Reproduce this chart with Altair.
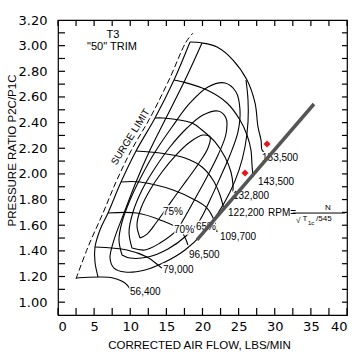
import altair as alt
import pandas as pd

# ---------------- axes ----------------
X_DOMAIN = [0, 40]
Y_DOMAIN = [0.9, 3.2]
x_tick_values = [0, 2.5, 5, 7.5, 10, 12.5, 15, 17.5, 20, 22.5, 25, 27.5, 30, 32.5, 35, 37.5, 40]
x_label_values = [0, 5, 10, 15, 20, 25, 30, 35, 40]
y_tick_values = [1.0, 1.1, 1.2, 1.3, 1.4, 1.5, 1.6, 1.7, 1.8, 1.9, 2.0, 2.1, 2.2, 2.3,
                 2.4, 2.5, 2.6, 2.7, 2.8, 2.9, 3.0, 3.1]
y_label_values = [1.0, 1.2, 1.4, 1.6, 1.8, 2.0, 2.2, 2.4, 2.6, 2.8, 3.0, 3.2]
# inward tick extents (data units)
tick_bottom_from, tick_bottom_to = 0.9, 0.955
tick_top_from, tick_top_to = 3.2, 3.153
tick_left_from, tick_left_to = 0.0, 0.97
tick_right_from, tick_right_to = 40.0, 39.3

# ---------------- surge ----------------
surge_limit_x = [2.49, 4.15, 6.23, 8.03, 10.10, 12.73, 15.36, 17.72, 18.69]
surge_limit_y = [1.181, 1.430, 1.695, 1.937, 2.179, 2.436, 2.732, 3.028, 3.099]

surge_line_x = [5.54, 5.12, 5.12, 5.81, 6.92, 8.72, 10.80, 13.43, 16.06, 18.27]
surge_line_y = [1.196, 1.313, 1.430, 1.563, 1.695, 1.937, 2.179, 2.436, 2.732, 3.028]

# ---------------- speed lines ----------------
speed_153500_x = [18.27, 19.93, 22.01, 24.22, 26.16, 27.27, 27.68, 28.10, 28.24, 28.65]
speed_153500_y = [3.028, 3.021, 2.989, 2.888, 2.732, 2.553, 2.366, 2.264, 2.186, 2.163]
speed_143500_x = [16.06, 17.30, 20.62, 23.39, 25.19, 26.16, 26.71, 26.85, 26.99]
speed_143500_y = [2.732, 2.717, 2.654, 2.553, 2.420, 2.303, 2.186, 2.069, 1.976]
speed_132800_x = [13.43, 14.53, 18.55, 19.93, 21.73, 23.11, 23.94, 24.22, 24.22]
speed_132800_y = [2.436, 2.436, 2.397, 2.342, 2.249, 2.132, 2.015, 1.914, 1.859]
speed_122200_x = [10.80, 14.12, 17.58, 19.93, 21.45, 22.42, 22.98]
speed_122200_y = [2.179, 2.163, 2.124, 2.054, 1.953, 1.836, 1.719]
speed_109700_x = [8.72, 11.35, 15.92, 18.96, 20.62, 21.59, 22.01]
speed_109700_y = [1.937, 1.937, 1.875, 1.797, 1.734, 1.641, 1.547]
speed_96500_x = [6.92, 10.93, 14.12, 16.89, 17.99]
speed_96500_y = [1.695, 1.695, 1.641, 1.563, 1.446]
speed_79000_x = [5.12, 9.55, 12.32, 13.84, 14.39]
speed_79000_y = [1.430, 1.407, 1.352, 1.290, 1.266]
speed_56400_x = [2.49, 5.81, 7.61, 9.27, 9.97]
speed_56400_y = [1.188, 1.196, 1.188, 1.149, 1.103]

# ---------------- efficiency islands ----------------
eff_60_x = [19.93, 17.58, 14.95, 12.73, 10.80, 9.14, 7.75, 7.20, 7.75, 9.27, 12.04, 14.81,
            17.58, 20.07, 22.15, 23.81, 25.05, 25.88, 26.30, 26.30, 26.02]
eff_60_y = [3.021, 2.732, 2.436, 2.186, 1.937, 1.695, 1.485, 1.344, 1.266, 1.235, 1.251, 1.313,
            1.407, 1.539, 1.695, 1.859, 2.030, 2.210, 2.405, 2.576, 2.732]
eff_65_x = [8.86, 8.44, 8.86, 9.97, 11.49, 13.43, 15.78, 18.27, 20.76, 23.11, 24.64, 25.19,
            24.91, 23.81, 22.42, 21.04, 19.65, 17.72, 15.22, 12.46, 9.97, 8.86]
eff_65_y = [1.368, 1.485, 1.625, 1.797, 1.976, 2.171, 2.366, 2.553, 2.678, 2.709, 2.639, 2.498,
            2.327, 2.147, 1.968, 1.797, 1.641, 1.516, 1.415, 1.352, 1.344, 1.368]
eff_70_x = [10.24, 9.83, 10.38, 11.63, 13.43, 15.50, 17.85, 20.07, 22.15, 23.25, 23.25, 22.15,
            20.62, 19.10, 17.72, 16.33, 14.12, 12.04, 10.24]
eff_70_y = [1.422, 1.547, 1.703, 1.875, 2.046, 2.210, 2.358, 2.459, 2.490, 2.436, 2.311, 2.147,
            1.976, 1.820, 1.680, 1.555, 1.461, 1.407, 1.422]
eff_75_x = [11.35, 10.93, 11.49, 12.73, 14.39, 16.33, 18.27, 20.07, 21.04, 20.76, 19.52, 17.85,
            16.33, 14.95, 13.56, 12.32, 11.35]
eff_75_y = [1.500, 1.602, 1.734, 1.875, 2.015, 2.147, 2.249, 2.303, 2.288, 2.202, 2.085, 1.953,
            1.836, 1.726, 1.617, 1.531, 1.500]

# ---------------- choke line and points ----------------
choke_x = [19.24, 35.43]
choke_y = [1.485, 2.545]
point_x = [28.93, 25.88]
point_y = [2.233, 2.007]

# ---------------- labels ----------------
speed_label_text = ["153,500", "143,500", "132,800", "122,200", "109,700", "96,500", "79,000", "56,400", "RPM="]
speed_label_x = [28.24, 27.68, 24.22, 23.53, 22.42, 18.13, 14.53, 9.97, 29.07]
speed_label_y = [2.124, 1.937, 1.828, 1.695, 1.508, 1.368, 1.251, 1.079, 1.695]
eff_label_text = ["75%", "70%", "65%"]
eff_label_x = [14.53, 16.06, 19.10]
eff_label_y = [1.703, 1.563, 1.586]
title_text = ["T3", "\"50\"  TRIM"]
title_x = [7.61, 7.47]
title_y = [3.083, 2.989]
surge_text = ["SURGE LIMIT"]
surge_text_x = [10.05]
surge_text_y = [2.288]
formula_text = ["N", "\u221a", "T", "/545"]
formula_x = [36.95, 32.95, 33.85, 35.71]
formula_y = [1.734, 1.630, 1.648, 1.648]
formula_sub_text = ["1c"]
formula_sub_x = [34.60]
formula_sub_y = [1.615]
formula_bar_x = [32.53]
formula_bar_x2 = [39.72]
formula_bar_y = [1.695]


def rows(name, xs, ys):
    return [{"curve": name, "order": i, "x": a, "y": b} for i, (a, b) in enumerate(zip(xs, ys))]


solid_df = pd.DataFrame(
    rows("surge", surge_line_x, surge_line_y)
    + rows("s153500", speed_153500_x, speed_153500_y)
    + rows("s143500", speed_143500_x, speed_143500_y)
    + rows("s132800", speed_132800_x, speed_132800_y)
    + rows("s122200", speed_122200_x, speed_122200_y)
    + rows("s109700", speed_109700_x, speed_109700_y)
    + rows("s96500", speed_96500_x, speed_96500_y)
    + rows("s79000", speed_79000_x, speed_79000_y)
    + rows("s56400", speed_56400_x, speed_56400_y)
    + rows("e60", eff_60_x, eff_60_y)
    + rows("e65", eff_65_x, eff_65_y)
    + rows("e70", eff_70_x, eff_70_y)
    + rows("e75", eff_75_x, eff_75_y)
)
dash_df = pd.DataFrame(rows("limit", surge_limit_x, surge_limit_y))
choke_df = pd.DataFrame(rows("choke", choke_x, choke_y))
pts_df = pd.DataFrame({"x": point_x, "y": point_y})

# tick segments table
tick_rows = []
for v in x_tick_values:
    tick_rows.append({"x": v, "x2": v, "y": tick_bottom_from, "y2": tick_bottom_to})
    tick_rows.append({"x": v, "x2": v, "y": tick_top_from, "y2": tick_top_to})
for v in y_tick_values:
    tick_rows.append({"x": tick_left_from, "x2": tick_left_to, "y": v, "y2": v})
    tick_rows.append({"x": tick_right_from, "x2": tick_right_to, "y": v, "y2": v})
tick_df = pd.DataFrame(tick_rows)

xs = alt.Scale(domain=X_DOMAIN, nice=False, zero=False)
ys = alt.Scale(domain=Y_DOMAIN, nice=False, zero=False)

x_axis = alt.Axis(values=x_label_values, title="CORRECTED AIR FLOW, LBS/MIN",
                  labelPadding=5, titleX=141, titleY=30, titleBaseline="middle",
                  titleFontSize=11.5, labelOverlap=False, ticks=False, tickSize=0,
                  domain=False, grid=False, format="d")
y_axis = alt.Axis(values=y_label_values, format=".2f", title="PRESSURE RATIO P2C/P1C",
                  labelPadding=11, titleX=-46, titleY=130, titleAngle=270,
                  titleBaseline="middle", titleFontSize=11.5, labelOverlap=False,
                  ticks=False, tickSize=0, domain=False, grid=False)

X = lambda: alt.X("x:Q", scale=xs, axis=x_axis)
Y = lambda: alt.Y("y:Q", scale=ys, axis=y_axis)

lines = alt.Chart(solid_df).mark_line(color="black", strokeWidth=1.1, interpolate="catmull-rom").encode(
    x=X(), y=Y(), detail="curve:N", order="order:Q")

dashed = alt.Chart(dash_df).mark_line(color="black", strokeWidth=1, strokeDash=[6, 3],
                                      interpolate="catmull-rom").encode(
    x=X(), y=Y(), order="order:Q")

choke = alt.Chart(choke_df).mark_line(color="#555555", strokeWidth=3.5).encode(
    x=X(), y=Y(), order="order:Q")

points = alt.Chart(pts_df).mark_point(shape="diamond", filled=True, color="#e8141c", size=50,
                                      opacity=1).encode(x=X(), y=Y())

ticks = alt.Chart(tick_df).mark_rule(color="black", strokeWidth=1.2).encode(
    x=X(), x2="x2:Q", y=Y(), y2="y2:Q")


def label_layers(text, lx, ly, size, align="left", font="Liberation Sans", halo=True, angle=None):
    df = pd.DataFrame({"t": text, "x": lx, "y": ly})
    kw = dict(align=align, baseline="middle", font=font, fontSize=size)
    if angle is not None:
        kw["angle"] = angle
    out = []
    if halo:
        out.append(alt.Chart(df).mark_text(stroke="white", strokeWidth=3, fill="white", **kw).encode(
            x=X(), y=Y(), text="t:N"))
    out.append(alt.Chart(df).mark_text(color="black", **kw).encode(x=X(), y=Y(), text="t:N"))
    return out


texts = []
texts += label_layers(speed_label_text, speed_label_x, speed_label_y, 10)
texts += label_layers(eff_label_text, eff_label_x, eff_label_y, 10)
texts += label_layers(title_text, title_x, title_y, 11, align="center", halo=False)
texts += label_layers(surge_text, surge_text_x, surge_text_y, 10, align="center", angle=302)
texts += label_layers(formula_text, formula_x, formula_y, 8, align="left", halo=False)
texts += label_layers(formula_sub_text, formula_sub_x, formula_sub_y, 6, align="left", halo=False)

bar_df = pd.DataFrame({"x": formula_bar_x, "x2": formula_bar_x2, "y": formula_bar_y})
bar = alt.Chart(bar_df).mark_rule(color="black", strokeWidth=1).encode(
    x=X(), x2="x2:Q", y=Y())

chart = alt.layer(
    lines, dashed, *texts[:4], choke, points, *texts[4:], bar, ticks,
).properties(
    width=289, height=295,
    autosize=alt.AutoSizeParams(type="none"),
    padding={"left": 58, "top": 20, "right": 16, "bottom": 43},
    background="white",
).configure_view(
    stroke="black", strokeWidth=1.2,
).configure_axis(
    ticks=False, tickSize=0, domain=False, grid=False,
    labelFont="DejaVu Sans", labelFontSize=13, labelColor="black",
    titleFont="Liberation Sans", titleFontWeight="normal", titleColor="black",
)

chart.save("out.html", embed_options={"renderer": "svg", "actions": False})
